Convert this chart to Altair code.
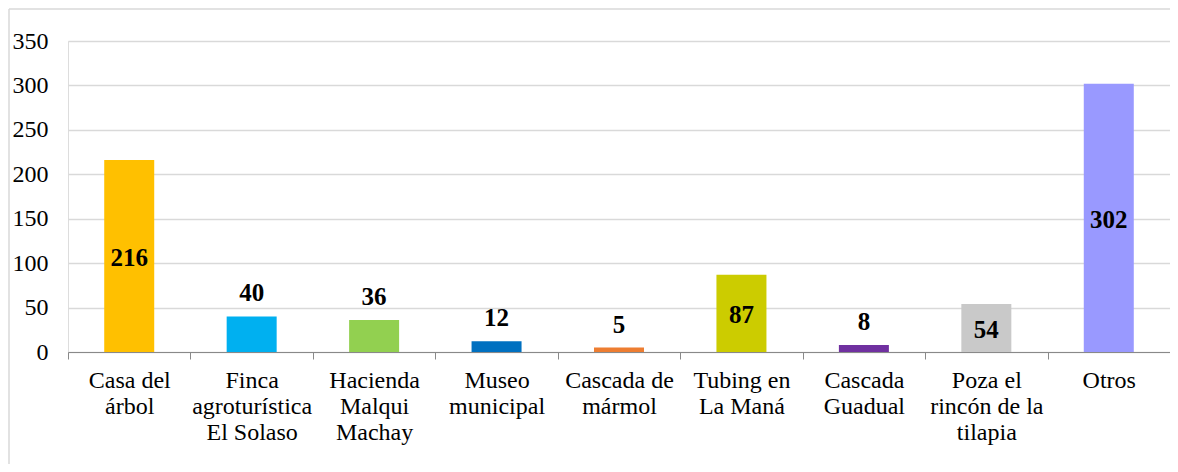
import altair as alt
import pandas as pd

categories = [
    "Casa del\nárbol",
    "Finca\nagroturística\nEl Solaso",
    "Hacienda\nMalqui\nMachay",
    "Museo\nmunicipal",
    "Cascada de\nmármol",
    "Tubing en\nLa Maná",
    "Cascada\nGuadual",
    "Poza el\nrincón de la\ntilapia",
    "Otros",
]
values = [216, 40, 36, 12, 5, 87, 8, 54, 302]
colors = ["#FFC000", "#00B0F0", "#92D050", "#0070C0", "#ED7D31",
          "#CCCC00", "#7030A0", "#C9C9C9", "#9999FF"]
y_ticks = [0, 50, 100, 150, 200, 250, 300, 350]

df = pd.DataFrame({"cat": categories, "value": values, "color": colors})

W, H = 1102, 311
FONT = "Liberation Serif"

x = alt.X("cat:N", sort=categories, title=None,
          scale=alt.Scale(paddingInner=0, paddingOuter=0),
          axis=alt.Axis(labelExpr="split(datum.label, '\\n')", labelAngle=0,
                        labelFont=FONT, labelFontSize=24, labelLineHeight=26,
                        labelColor="#000000", labelLimit=0, labelPadding=9,
                        labelBaseline="top",
                        domainColor="#898989", tickColor="#898989", tickSize=7,
                        tickBand="extent", grid=False))
y = alt.Y("value:Q", title=None,
          scale=alt.Scale(domain=[0, 350], nice=False),
          axis=alt.Axis(values=y_ticks, labelFont=FONT, labelFontSize=24,
                        labelColor="#000000", labelPadding=20, domain=False,
                        ticks=False, gridColor="#D9D9D9", gridWidth=1.5))

base = alt.Chart(df)
bars = base.mark_bar(size=50).encode(x=x, y=y, color=alt.Color("color:N", scale=None))

inside = base.transform_filter("datum.value >= 50").transform_calculate(
    mid="datum.value / 2").mark_text(
    font=FONT, fontSize=25, fontWeight="bold", color="#000000", baseline="middle", dy=2).encode(
    x=alt.X("cat:N", sort=categories), y=alt.Y("mid:Q"), text="value:Q")
outside = base.transform_filter("datum.value < 50").mark_text(
    font=FONT, fontSize=25, fontWeight="bold", color="#000000", baseline="bottom", dy=-10).encode(
    x=alt.X("cat:N", sort=categories), y=alt.Y("value:Q"), text="value:Q")

one = pd.DataFrame({"b": [0]})
border_left = alt.Chart(one).mark_rule(stroke="#D9D9D9", strokeWidth=1.5).encode(
    x=alt.value(-59), y=alt.value(-32), y2=alt.value(H + 112))
border_top = alt.Chart(one).mark_rule(stroke="#D9D9D9", strokeWidth=1.5).encode(
    x=alt.value(-59), x2=alt.value(W), y=alt.value(-32))

chart = alt.layer(border_left, border_top, bars, inside, outside).properties(
    width=W, height=H,
    autosize=alt.AutoSizeParams(type="none"),
    padding={"left": 60, "top": 33, "right": 0, "bottom": 112},
).configure_view(stroke=None).configure(background="white")

chart.save("out.html", embed_options={"renderer": "svg", "actions": False})
